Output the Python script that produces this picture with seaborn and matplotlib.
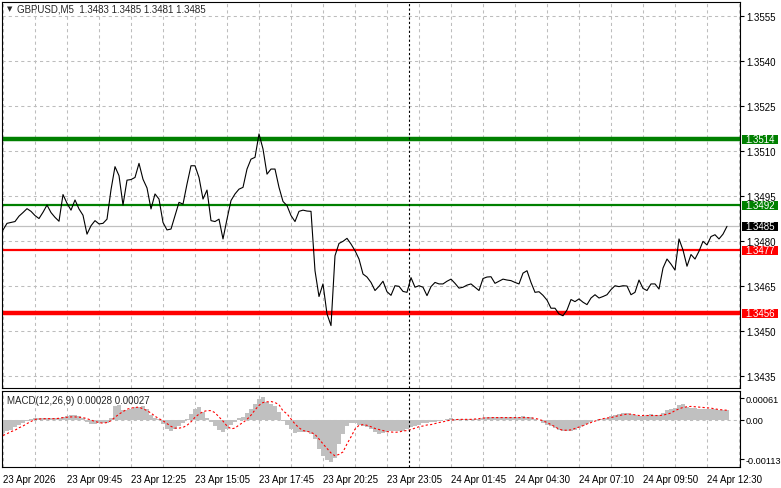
import matplotlib
matplotlib.use("Agg")
import matplotlib.pyplot as plt
import matplotlib.transforms as mtransforms
from matplotlib.patches import Rectangle
import numpy as np
import pandas as pd
import seaborn as sns

# GBPUSD M5 close, one value every 2 bars (10 min)
close = [
    1.34838, 1.34860, 1.34863, 1.34866, 1.34884, 1.34896, 1.34909, 1.34900, 1.34886, 1.34876,
    1.34897, 1.34921, 1.34896, 1.34880, 1.34867, 1.34956, 1.34927, 1.34904, 1.34938, 1.34908,
    1.34887, 1.34824, 1.34852, 1.34869, 1.34858, 1.34860, 1.34874, 1.34972, 1.35049, 1.35019,
    1.34921, 1.35004, 1.35006, 1.35013, 1.35060, 1.35007, 1.34978,
    1.34908, 1.34958, 1.34941, 1.34863, 1.34838, 1.34841, 1.34886, 1.34930, 1.34924, 1.34991,
    1.35052, 1.35052, 1.35013, 1.34941, 1.34971, 1.34869, 1.34866, 1.34874, 1.34808, 1.34874,
    1.34936, 1.34958, 1.34974, 1.34980, 1.35041, 1.35074, 1.35080, 1.35158, 1.35108, 1.35024,
    1.35041, 1.35041, 1.34980, 1.34933, 1.34919, 1.34886,
    1.34866, 1.34900, 1.34904, 1.34901, 1.34900, 1.34702, 1.34616, 1.34658, 1.34558, 1.34519,
    1.34752, 1.34793, 1.34800, 1.34810, 1.34791, 1.34769, 1.34741, 1.34691, 1.34681, 1.34663,
    1.34636, 1.34650, 1.34667, 1.34632, 1.34620, 1.34652, 1.34650, 1.34633, 1.34630, 1.34679,
    1.34647, 1.34652, 1.34647, 1.34619, 1.34649, 1.34663, 1.34658,
    1.34658, 1.34667, 1.34674, 1.34660, 1.34644, 1.34647, 1.34654, 1.34658, 1.34647, 1.34636,
    1.34676, 1.34681, 1.34682, 1.34660, 1.34667, 1.34674, 1.34671, 1.34669, 1.34663, 1.34658,
    1.34694, 1.34702, 1.34663, 1.34630, 1.34632, 1.34620, 1.34604, 1.34577, 1.34577, 1.34558,
    1.34552, 1.34571, 1.34606, 1.34599, 1.34608, 1.34597,
    1.34589, 1.34611, 1.34622, 1.34611, 1.34616, 1.34622, 1.34639, 1.34652, 1.34649, 1.34652,
    1.34651, 1.34622, 1.34630, 1.34671, 1.34643, 1.34636, 1.34658, 1.34658, 1.34641, 1.34711,
    1.34741, 1.34724, 1.34704, 1.34808, 1.34771, 1.34717, 1.34756, 1.34741, 1.34767, 1.34800,
    1.34788, 1.34816, 1.34822, 1.34808, 1.34824, 1.34850,
]

# MACD(12,26,9) main (histogram) and signal, in 1e-5
macd_main = [
    -38, -32, -28, -20, -14, -9, -4, 2, 5, 6,
    6, 5, 5, 6, 6, 8, 10, 13, 14, 12,
    6, -6, -12, -12, -9, -9, -8, 5, 38, 42,
    29, 29, 31, 35, 37, 38, 31, 13, 4, 1,
    -12, -27, -33, -27, -19, -10, 1, 17, 31, 36,
    22, 6, -6, -18, -29, -35, -27, -16, -6, 4,
    9, 18, 31, 44, 58, 64, 52, 45, 38, 21,
    -3, -15, -27, -39, -36, -34, -36, -41, -55, -84,
    -105, -115, -121, -108, -69, -41, -19, -8, -8, -16,
    -19, -22, -27, -34, -41, -38, -34, -31, -31, -31,
    -31, -27, -20, -18, -14, -8, -8, -7, -6, -4,
    -2, 3, 5, 3, 3, 2, 1, 1, 2, 3,
    6, 7, 8, 8, 8, 7, 7, 8, 8, 9,
    10, 9, 7, 3, -2, -8, -14, -19, -23, -28,
    -31, -31, -31, -28, -23, -18, -11, -6, 0, 2,
    3, 6, 11, 14, 16, 18, 18, 17, 13, 11,
    10, 13, 15, 13, 14, 19, 27, 30, 33, 43,
    45, 36, 33, 33, 32, 31, 31, 31, 30, 29,
    29, 28,
]
macd_signal = [
    -45, -40, -34, -30, -23, -18, -11, -5, 1, 2,
    3, 3, 3, 3, 4, 6, 7, 8, 8, 7,
    6, 3, -1, -5, -8, -10, -8, -3, 7, 16,
    23, 30, 33, 35, 36, 31, 26, 19, 10, 3,
    -3, -11, -19, -24, -24, -22, -16, -6, 7, 16,
    23, 26, 26, 20, 8, -4, -18, -26, -24, -15,
    -8, 1, 13, 28, 41, 49, 51, 52, 49, 43,
    25, 17, 2, -12, -23, -31, -33, -36, -42, -55,
    -69, -82, -95, -103, -99, -92, -69, -49, -27, -16,
    -14, -16, -20, -25, -28, -31, -34, -35, -36, -35,
    -32, -31, -28, -24, -20, -18, -15, -14, -11, -8,
    -6, -3, -1, 0, 1, 1, 1, 1, 2, 3,
    5, 5, 6, 6, 6, 6, 6, 6, 6, 6,
    6, 6, 5, 4, 1, -3, -8, -14, -20, -27,
    -30, -30, -29, -25, -21, -17, -12, -8, -4, 0,
    3, 5, 6, 9, 12, 14, 16, 16, 14, 12,
    12, 12, 12, 12, 12, 13, 16, 19, 26, 31,
    35, 37, 38, 37, 36, 35, 34, 33, 31, 29,
    28, 27,
]

time_labels = ["23 Apr 2026", "23 Apr 09:45", "23 Apr 12:25", "23 Apr 15:05",
               "23 Apr 17:45", "23 Apr 20:25", "23 Apr 23:05", "24 Apr 01:45",
               "24 Apr 04:30", "24 Apr 07:10", "24 Apr 09:50", "24 Apr 12:30"]
price_ticks = [1.3435, 1.3450, 1.3465, 1.3480, 1.3495, 1.3510, 1.3525, 1.3540, 1.3555]
macd_ticks = [-0.00113, 0.0, 0.00061]
macd_tick_labels = ["-0.00113", "0.00", "0.00061"]

# horizontal levels: value, colour, width
levels = [(1.3514, "#008000", 3.2), (1.3492, "#008000", 1.6),
          (1.3477, "#ff0000", 1.6), (1.3456, "#ff0000", 3.2)]
bid = 1.3485

df = pd.DataFrame({
    "k": np.arange(len(close)),
    "close": close,
    "macd": np.array(macd_main) * 1e-5,
    "signal": np.array(macd_signal) * 1e-5,
})

sns.set_style("white")
plt.rcParams["font.family"] = ["Liberation Sans", "DejaVu Sans"]
plt.rcParams["font.size"] = 7

W, H = 781, 489
fig = plt.figure(figsize=(W / 100, H / 100), dpi=100)
ax = fig.add_axes([2 / W, 1 - 389 / H, 738 / W, 386 / H])
ax2 = fig.add_axes([2 / W, 1 - 468 / H, 738 / W, 76 / H])

grid_kw = dict(color="#bdbdbd", lw=0.75, ls=(0, (3, 3)), zorder=0)
xgrid = np.arange(0, 185, 8)
sep_k = 101.6

# ---- price panel
for g in xgrid:
    ax.axvline(g, **grid_kw)
for p in price_ticks:
    ax.axhline(p, **grid_kw)
ax.axhline(bid, color="#c0c0c0", lw=0.9, zorder=1)
for val, col, lw in levels:
    ax.axhline(val, color=col, lw=lw, zorder=2)
sns.lineplot(data=df, x="k", y="close", color="black", lw=0.8, ax=ax, zorder=3)
ax.axvline(sep_k, color="black", lw=0.8, ls=(0, (2, 2)), zorder=4)

ax.set_xlim(-0.25, 184.25)
ax.set_ylim(1.34311, 1.35598)
ax.set_xticks([])
ax.set_xlabel("")
ax.set_ylabel("")
ax.yaxis.tick_right()
ax.set_yticks(price_ticks)
ax.set_yticklabels([f"{p:.4f}" for p in price_ticks])
ax.tick_params(axis="y", length=3, width=0.8, pad=1.5, labelsize=7, colors="black")

trans = mtransforms.blended_transform_factory(ax.transAxes, ax.transData)
boxes = [(1.3514, "#008000"), (1.3492, "#008000"), (1.3485, "#000000"),
         (1.3477, "#ff0000"), (1.3456, "#ff0000")]
bh = 9.4 / 30000
for val, col in boxes:
    ax.add_patch(Rectangle((1.0023, val - bh / 2), 0.0488, bh, transform=trans,
                           facecolor=col, edgecolor="none", clip_on=False, zorder=6))
    ax.text(1.0075, val, f"{val:.4f}", transform=trans, color="white", fontsize=7,
            va="center", ha="left", zorder=7, clip_on=False)

fig.text(7 / W, 1 - 9 / H, "\u25bc", fontsize=5, va="center", ha="left",
         family=["DejaVu Sans"])
fig.text(17 / W, 1 - 9 / H, "GBPUSD,M5  1.3483 1.3485 1.3481 1.3485",
         fontsize=7, va="center", ha="left")

# ---- MACD panel
for g in xgrid:
    ax2.axvline(g, **grid_kw)
ax2.axhline(0, **grid_kw)
ax2.bar(df["k"], df["macd"], width=1.0, color="#c0c0c0", linewidth=0, zorder=2)
sns.lineplot(data=df, x="k", y="signal", color="#ff0000", lw=0.8,
             ls=(0, (2, 2)), ax=ax2, zorder=3)
ax2.axvline(sep_k, color="black", lw=0.8, ls=(0, (2, 2)), zorder=4)

ax2.set_xlim(-0.25, 184.25)
ax2.set_ylim(-0.00135, 0.00082)
ax2.set_xlabel("")
ax2.set_ylabel("")
ax2.set_xticks(np.arange(0, 177, 16))
ax2.set_xticklabels(time_labels, ha="left")
ax2.tick_params(axis="x", length=3, width=0.8, pad=2, labelsize=7, colors="black")
ax2.yaxis.tick_right()
ax2.set_yticks(macd_ticks)
ax2.set_yticklabels(macd_tick_labels)
ax2.tick_params(axis="y", length=3, width=0.8, pad=1, labelsize=6.6, colors="black")
ax2.text(0.0068, 0.88, "MACD(12,26,9) 0.00028 0.00027", transform=ax2.transAxes,
         fontsize=7, va="center", ha="left")

for a in (ax, ax2):
    for s in a.spines.values():
        s.set_color("black")
        s.set_linewidth(0.8)
    a.set_facecolor("white")

fig.savefig("out.png", dpi=100)
plt.close(fig)
